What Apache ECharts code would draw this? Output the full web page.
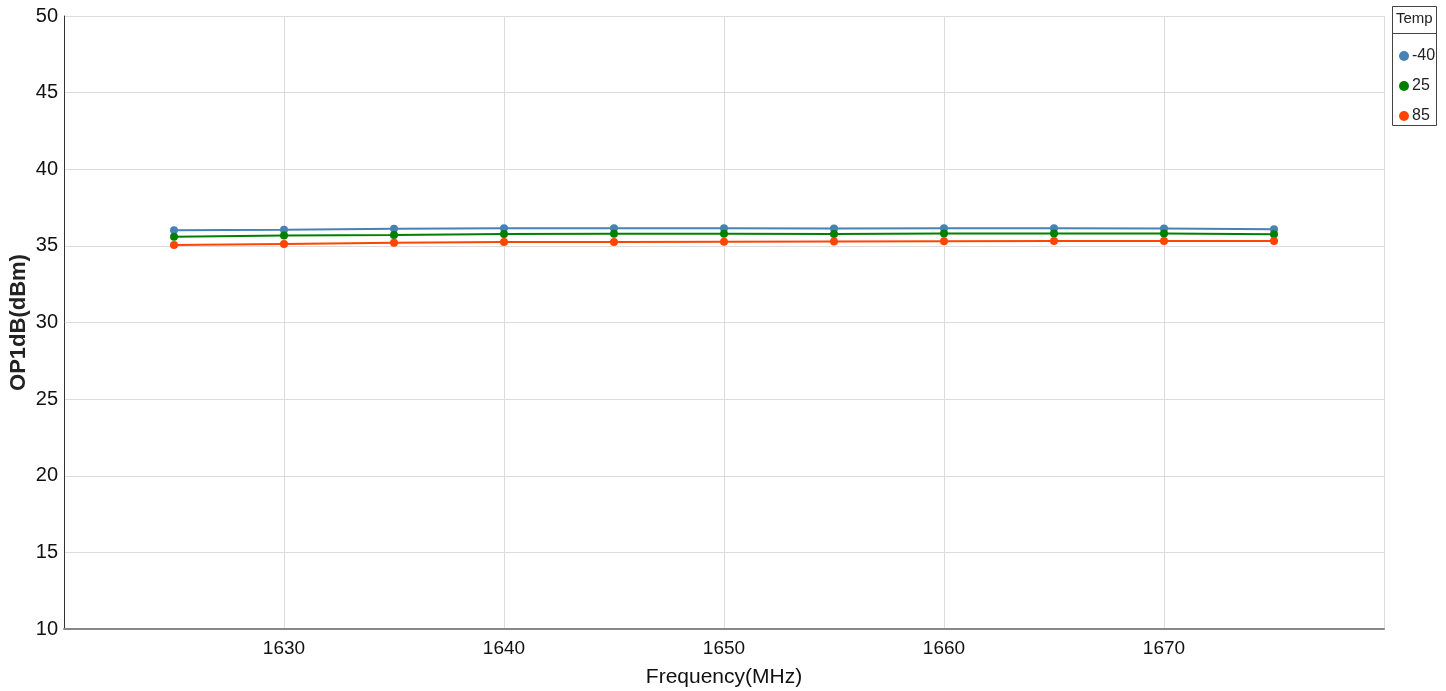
<!DOCTYPE html>
<html>
<head>
<meta charset="utf-8">
<script src="https://cdn.jsdelivr.net/npm/echarts@6/dist/echarts.min.js"></script>
<style>html,body{margin:0;padding:0;background:#fff}#c{width:1446px;height:691px}</style>
</head>
<body>
<div id="c"></div>
<script>
const freqs = [1625, 1630, 1635, 1640, 1645, 1650, 1655, 1660, 1665, 1670, 1675];
const tempNames = ['-40', '25', '85'];
const m40 = [36.02, 36.06, 36.12, 36.15, 36.15, 36.15, 36.13, 36.15, 36.15, 36.13, 36.08];
const p25 = [35.60, 35.67, 35.71, 35.78, 35.79, 35.79, 35.78, 35.80, 35.80, 35.80, 35.76];
const p85 = [35.06, 35.13, 35.21, 35.26, 35.26, 35.27, 35.28, 35.30, 35.32, 35.32, 35.32];
const colors = ['#4682B4', '#008000', '#FF4500'];

const chart = echarts.init(document.getElementById('c'));
const seriesData = [m40, p25, p85];
chart.setOption({
  animation: false,
  backgroundColor: '#fff',
  grid: { left: 64, top: 16, right: 62, bottom: 62, containLabel: false, outerBoundsMode: 'none' },
  xAxis: {
    type: 'value', min: 1620, max: 1680, interval: 10,
    name: 'Frequency(MHz)', nameLocation: 'middle', nameGap: 38,
    nameTextStyle: { fontFamily: 'Liberation Sans', fontSize: 21, color: '#111' },
    axisLine: { show: true, lineStyle: { color: '#888', width: 2 } },
    axisTick: { show: false },
    axisLabel: { fontFamily: 'Liberation Sans', fontSize: 19, color: '#111', margin: 10, showMinLabel: false, showMaxLabel: false, formatter: v => String(v) },
    splitLine: { show: true, lineStyle: { color: '#dcdcdc', width: 1 } }
  },
  yAxis: {
    type: 'value', min: 10, max: 50, interval: 5,
    name: 'OP1dB(dBm)', nameLocation: 'middle', nameGap: 34, nameMoveOverlap: false,
    nameTextStyle: { fontFamily: 'Liberation Sans', fontSize: 22, fontWeight: 'bold', color: '#222' },
    axisLine: { show: true, lineStyle: { color: '#333', width: 1 } },
    axisTick: { show: false },
    axisLabel: { fontFamily: 'Liberation Sans', fontSize: 20, color: '#111', margin: 6 },
    splitLine: { show: true, lineStyle: { color: '#dcdcdc', width: 1 } }
  },
  legend: {
    orient: 'vertical', left: 1394, top: 43,
    itemWidth: 10, itemHeight: 10, itemGap: 14, icon: 'circle',
    textStyle: { fontFamily: 'Liberation Sans', fontSize: 16, color: '#222', padding: [0, 0, 0, -2] },
    data: tempNames
  },
  graphic: [
    { type: 'rect', shape: { x: 1392.5, y: 6.5, width: 44, height: 119 }, style: { fill: 'transparent', stroke: '#444', lineWidth: 1 }, z: 10 },
    { type: 'line', shape: { x1: 1392.5, y1: 33.5, x2: 1436.5, y2: 33.5 }, style: { stroke: '#444', lineWidth: 1 }, z: 10 },
    { type: 'text', left: 1396, top: 11, style: { text: 'Temp', font: '15px "Liberation Sans"', fill: '#222' }, z: 10 }
  ],
  series: tempNames.map((n, i) => ({
    name: n, type: 'line',
    data: freqs.map((f, j) => [f, seriesData[i][j]]),
    symbol: 'circle', symbolSize: 8,
    itemStyle: { color: colors[i] },
    lineStyle: { color: colors[i], width: 2 }
  }))
});
</script>
</body>
</html>
